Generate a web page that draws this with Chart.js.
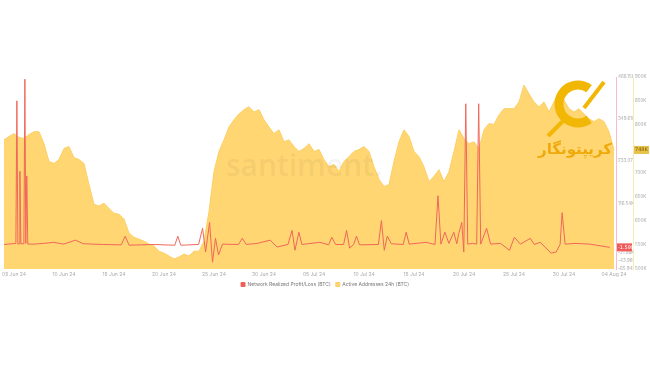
<!DOCTYPE html>
<html>
<head>
<meta charset="utf-8">
<script src="https://cdn.jsdelivr.net/npm/chart.js@4"></script>
<style>
  body { margin: 0; background: #fff; }
  canvas { display: block; }
</style>
</head>
<body>
<canvas id="chart" width="650" height="365"></canvas>
<script>
// tick labels on the time axis (days from start)
const tickDays = [1, 6, 11, 16, 21, 26, 31, 36, 41, 46, 51, 56, 61];
const tickLabels = ['05 Jun 24', '10 Jun 24', '15 Jun 24', '20 Jun 24', '25 Jun 24', '30 Jun 24',
  '05 Jul 24', '10 Jul 24', '15 Jul 24', '20 Jul 24', '25 Jul 24', '30 Jul 24', '04 Aug 24'];

// Active Addresses 24h (K), one sample every 12h
const activeAddresses = [
  769, 776, 782, 774, 772, 780, 786, 786, 761, 724,
  720, 728, 751, 755, 732, 728, 720, 676, 635, 631,
  637, 626, 616, 614, 604, 575, 566, 562, 558, 552,
  548, 537, 533, 527, 521, 525, 531, 527, 537, 537,
  558, 620, 703, 745, 769, 796, 811, 823, 832, 838,
  827, 832, 811, 796, 782, 790, 765, 769, 755, 745,
  751, 761, 745, 749, 728, 713, 718, 703, 724, 734,
  745, 749, 755, 745, 713, 687, 672, 676, 724, 765,
  790, 776, 745, 734, 713, 682, 693, 707, 682, 703,
  745, 790, 772, 761, 765, 751, 790, 803, 801, 821,
  834, 834, 834, 848, 883, 865, 848, 838, 848, 827,
  848, 863, 852, 834, 827, 834, 823, 813, 807, 813,
  807, 786, 748
];
const aaStep = 0.5;

// Network Realized Profit/Loss (K BTC), irregular samples (days)
const pnlDays = [0, 1.19, 1.29, 1.39, 1.54, 1.59, 1.69, 1.99, 2.09, 2.18, 2.28, 2.38, 2.98, 3.97, 4.97,
  5.96, 7.15, 7.94, 9.93, 11.72, 12.12, 12.51, 14.9, 17.08, 17.38, 17.68, 19.46, 19.86, 20.16,
  20.56, 20.85, 21.15, 21.45, 21.85, 23.44, 23.83, 24.23, 25.32, 26.61, 27.31, 28.4, 28.8, 29.1,
  29.49, 29.79, 31.58, 32.47, 32.77, 33.17, 33.96, 34.26, 34.56, 34.96, 35.25, 35.55, 37.44,
  37.74, 38.03, 38.33, 38.73, 39.92, 40.22, 40.52, 42.2, 43.1, 43.4, 43.69, 44.09, 44.49, 44.98,
  45.28, 45.48, 45.78, 45.98, 46.18, 46.37, 46.87, 47.27, 47.47, 47.67, 48.26, 48.66, 49.65,
  50.55, 51.04, 51.64, 52.63, 53.03, 53.62, 54.72, 55.21, 55.61, 55.81, 56.11, 57.1, 58.59, 60.58];
const pnlValues = [2, 5, 400, 3, 4, 205, 4, 4, 460, 5, 192, 3, 3, 5, 8,
  3, 14, 4, 2, 1, 25, 0, 2, 0, 25, 0, 2, 47, -19,
  63, -47, 19, -27, 3, 2, 19, 2, 5, 14, -5, 2, 41, -14,
  36, 2, 8, 1, 22, 2, 2, 41, -8, 2, 25, 1, 2,
  68, -14, 25, 4, 2, 36, 3, 8, 2, 137, 3, 36, 5, 36,
  4, 33, 63, -19, 392, 3, 5, 3, 392, 3, 47, 3, 5,
  -14, 22, 3, 19, 2, 8, -22, -19, 2, 90, 3, 5, 3, -6];

const pnlTicks = [466.15, 349.61, 233.07, 116.54, -21.98, -43.96, -65.94];

const ctx = document.getElementById('chart').getContext('2d');

// santiment watermark, logo and last-value tags
const overlays = {
  id: 'overlays',
  afterDatasetsDraw(chart) {
    const c = chart.ctx;
    c.save();
    c.fillStyle = 'rgba(60,60,60,0.055)';
    c.font = '600 30px "Open Sans"';
    c.textBaseline = 'alphabetic';
    c.fillText('santiment.', 226, 176);

    // logo
    c.strokeStyle = '#f2b705';
    c.lineWidth = 9;
    c.beginPath();
    c.arc(578, 104, 19, -0.3 * Math.PI, 0.3 * Math.PI, true);
    c.stroke();
    c.lineWidth = 4;
    c.beginPath();
    c.moveTo(584, 108);
    c.lineTo(604, 82);
    c.stroke();
    c.beginPath();
    c.moveTo(566, 118);
    c.lineTo(548, 136);
    c.stroke();
    c.fillStyle = '#eeaa0a';
    c.font = 'bold 15px "DejaVu Sans"';
    c.textAlign = 'center';
    c.fillText('کریپتونگار', 575, 154);
    c.restore();
  },
  afterDraw(chart) {
    const c = chart.ctx;
    const tag = (scale, value, bg, fg, text) => {
      const y = scale.getPixelForValue(value);
      c.fillStyle = bg;
      c.fillRect(scale.left + 1, y - 4, scale.width - 2, 8);
      c.fillStyle = fg;
      c.font = '5px "DejaVu Sans"';
      c.textAlign = 'left';
      c.textBaseline = 'middle';
      c.fillText(text, scale.left + 2, y);
    };
    c.save();
    tag(chart.scales.pnl, pnlValues[pnlValues.length - 1], '#ef5a5a', '#fff', '-1.598K');
    tag(chart.scales.aa, activeAddresses[activeAddresses.length - 1], '#e9c24a', '#7a5a00', '748K');
    c.restore();
  }
};

new Chart(ctx, {
  type: 'line',
  data: {
    datasets: [
      {
        label: 'Network Realized Profit/Loss (BTC)',
        data: pnlDays.map((d, i) => ({ x: d, y: pnlValues[i] })),
        yAxisID: 'pnl',
        borderColor: '#f0675a',
        backgroundColor: '#ef5a5a',
        borderWidth: 1,
        pointRadius: 0,
        fill: false,
        tension: 0,
        order: 0
      },
      {
        label: 'Active Addresses 24h (BTC)',
        data: activeAddresses.map((v, i) => ({ x: i * aaStep, y: v })),
        yAxisID: 'aa',
        borderColor: '#fccf63',
        backgroundColor: '#ffd672',
        borderWidth: 1,
        pointRadius: 0,
        fill: 'start',
        tension: 0,
        order: 1
      }
    ]
  },
  options: {
    responsive: false,
    animation: false,
    layout: { padding: { top: 77, bottom: 68, left: 0, right: 0 } },
    plugins: {
      legend: {
        position: 'bottom',
        labels: {
          boxWidth: 4,
          boxHeight: 4,
          padding: 5,
          color: '#777',
          font: { size: 5, family: 'Inter' }
        }
      },
      tooltip: { enabled: false }
    },
    scales: {
      x: {
        type: 'linear',
        min: 0,
        max: 61.2,
        grid: { display: false, drawTicks: false },
        border: { display: false },
        afterBuildTicks: (axis) => { axis.ticks = tickDays.map(v => ({ value: v })); },
        afterFit: (axis) => { axis.height = 8; },
        ticks: {
          autoSkip: false,
          maxRotation: 0,
          padding: 2,
          color: '#aaa',
          font: { size: 5, family: 'Inter' },
          callback: (v, i) => tickLabels[i]
        }
      },
      pnl: {
        position: 'right',
        weight: 0,
        min: -65.94,
        max: 466.15,
        grid: { display: false, drawTicks: false },
        border: { display: true, color: '#f5bccb' },
        afterBuildTicks: (axis) => { axis.ticks = pnlTicks.map(v => ({ value: v })); },
        afterFit: (axis) => { axis.width = 17; },
        ticks: {
          padding: 2,
          color: '#aaa',
          font: { size: 4.5, family: 'Inter' },
          callback: (v) => v.toFixed(2) + 'K'
        }
      },
      aa: {
        position: 'right',
        weight: 1,
        min: 500,
        max: 900,
        grid: { display: false, drawTicks: false },
        border: { display: true, color: '#f6ebb5' },
        afterFit: (axis) => { axis.width = 17; },
        ticks: {
          stepSize: 50,
          padding: 2,
          color: '#aaa',
          font: { size: 4.5, family: 'Inter' },
          callback: (v) => v + 'K'
        }
      }
    }
  },
  plugins: [overlays]
});
</script>
</body>
</html>
